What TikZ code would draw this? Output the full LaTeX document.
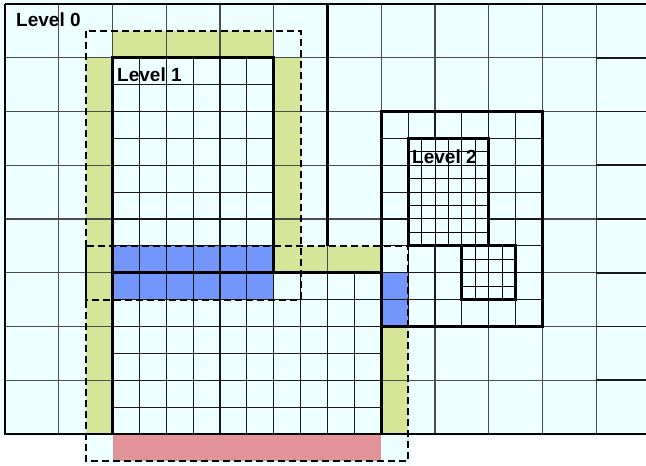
\documentclass[tikz,border=0pt]{standalone}
\usepackage{fontspec}
\setmainfont{Liberation Sans}
\definecolor{cellbg}{RGB}{238,255,255}
\definecolor{ghostY}{RGB}{214,230,152}
\definecolor{ghostB}{RGB}{114,150,252}
\definecolor{ghostR}{RGB}{224,148,152}
\tikzset{
 lvzero/.style={line width=1.1bp, draw=black!70},
 lvone/.style={line width=1.1bp, draw=black!90},
 lvtwo/.style={line width=1bp, draw=black},
 patchbox/.style={line width=2.8bp, draw=black},
 ghostbox/.style={line width=1.8bp, draw=black, dash pattern=on 7bp off 4bp},
 lbl/.style={font=\bfseries\fontsize{19bp}{21bp}\selectfont, anchor=base west, inner sep=0pt, text=black}
}
\begin{document}
\begin{tikzpicture}[x=1bp,y=-1bp]
\useasboundingbox (0,0) rectangle (646,466);
% backgrounds
\fill[cellbg] (0,0) rectangle (646,437);
\fill[cellbg] (83,434) rectangle (411,465);
% ghost cells
\fill[ghostY] (112.5,30.875) rectangle (273.75,57.75);
\fill[ghostY] (85.625,57.75) rectangle (112.5,434);
\fill[ghostY] (273.75,57.75) rectangle (300.625,272.75);
\fill[ghostY] (300.625,245.875) rectangle (381.25,272.75);
\fill[ghostY] (381.25,326.5) rectangle (408.125,434);
\fill[ghostB] (112.5,245.875) rectangle (273.75,299.625);
\fill[ghostB] (381.25,272.75) rectangle (408.125,326.5);
\fill[ghostR] (112.5,434) rectangle (381.25,460.875);
% level 0 grid
\foreach \k in {1,...,11} \draw[lvzero] ({5+53.75*\k},4) -- ({5+53.75*\k},434);
\foreach \k in {1,...,7} \draw[lvzero] (5,{4+53.75*\k}) -- (596.25,{4+53.75*\k});
\foreach \k in {1,...,7} \draw[line width=1.6bp, draw=black!90] (596.25,{4+53.75*\k}) -- (646,{4+53.75*\k});
% level 1 grids
\foreach \i in {0,...,6} \draw[lvone] ({112.5+26.875*\i},57.75) -- ({112.5+26.875*\i},272.75);
\foreach \j in {0,...,8} \draw[lvone] (112.5,{57.75+26.875*\j}) -- (273.75,{57.75+26.875*\j});
\foreach \i in {0,...,10} \draw[lvone] ({112.5+26.875*\i},272.75) -- ({112.5+26.875*\i},434);
\foreach \j in {0,...,6} \draw[lvone] (112.5,{272.75+26.875*\j}) -- (381.25,{272.75+26.875*\j});
\foreach \i in {0,...,6} \draw[lvone] ({381.25+26.875*\i},111.5) -- ({381.25+26.875*\i},326.5);
\foreach \j in {0,...,8} \draw[lvone] (381.25,{111.5+26.875*\j}) -- (542.5,{111.5+26.875*\j});
% level 2 grids
\fill[cellbg] (408.125,138.375) rectangle (488.75,245.875);
\fill[cellbg] (461.875,245.875) rectangle (515.625,299.625);
\foreach \i in {0,...,6} \draw[lvtwo] ({408.125+13.4375*\i},138.375) -- ({408.125+13.4375*\i},245.875);
\foreach \j in {0,...,8} \draw[lvtwo] (408.125,{138.375+13.4375*\j}) -- (488.75,{138.375+13.4375*\j});
\foreach \i in {0,...,4} \draw[lvtwo] ({461.875+13.4375*\i},245.875) -- ({461.875+13.4375*\i},299.625);
\foreach \j in {0,...,4} \draw[lvtwo] (461.875,{245.875+13.4375*\j}) -- (515.625,{245.875+13.4375*\j});
% thick borders
\draw[patchbox] (5,4) -- (646,4);
\draw[patchbox] (5,4) -- (5,434) -- (646,434);
\draw[patchbox] (327.5,4) -- (327.5,245.875);
\draw[patchbox] (112.5,57.75) rectangle (273.75,272.75);
\draw[patchbox] (112.5,272.75) rectangle (381.25,434);
\draw[patchbox] (381.25,111.5) rectangle (542.5,326.5);
\draw[patchbox] (408.125,138.375) rectangle (488.75,245.875);
\draw[patchbox] (461.875,245.875) rectangle (515.625,299.625);
% ghost boxes
\draw[ghostbox] (85.625,30.875) rectangle (300.625,299.625);
\draw[ghostbox] (85.625,245.875) rectangle (408.125,460.875);
% labels
\node[lbl] (lab0) at (16,27) {Level 0};
\node[lbl] (lab1) at (117,82) {Level 1};
\node[lbl] (lab2) at (412,164) {Level 2};
\end{tikzpicture}
\end{document}
